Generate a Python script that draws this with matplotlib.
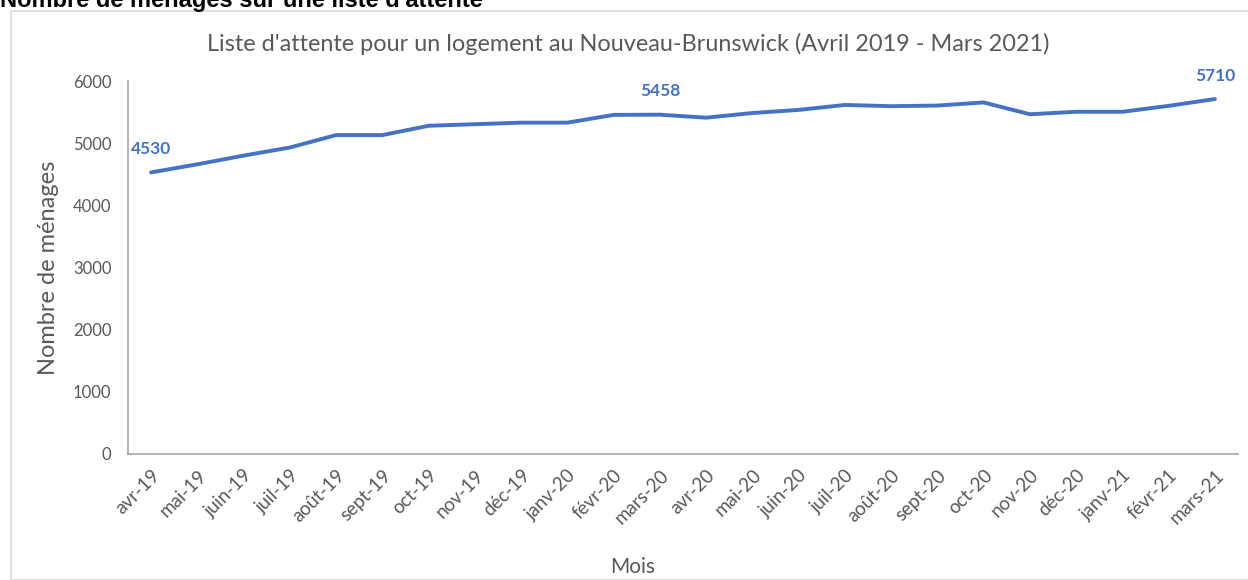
import matplotlib.pyplot as plt
from matplotlib.patches import Rectangle

# donnees : liste d'attente NB, avril 2019 - mars 2021
mois = ['avr-19', 'mai-19', 'juin-19', 'juil-19', 'août-19', 'sept-19',
        'oct-19', 'nov-19', 'déc-19', 'janv-20', 'févr-20', 'mars-20',
        'avr-20', 'mai-20', 'juin-20', 'juil-20', 'août-20', 'sept-20',
        'oct-20', 'nov-20', 'déc-20', 'janv-21', 'févr-21', 'mars-21']
menages = [4530, 4660, 4800, 4930, 5130, 5130,
           5280, 5305, 5330, 5330, 5455, 5458,
           5410, 5485, 5535, 5615, 5595, 5605,
           5655, 5465, 5505, 5505, 5600, 5710]
etiquettes = [0, 11, 23]  # points annotes

bleu = '#4472C4'
gris = '#595959'

plt.rcParams['font.family'] = ['Lato', 'DejaVu Sans']

fig = plt.figure(figsize=(12.48, 5.8), dpi=100)

# cadre du graphique
fig.patches.append(Rectangle((11/1248, 0), 1.0, 1 - 11/580, transform=fig.transFigure,
                             fill=False, edgecolor='#d9d9d9', linewidth=1.2))

# titre de la page (coupe en haut comme sur l'original)
fig.text(0.0, 1 - 7/580, "Nombre de ménages sur une liste d'attente",
         family='Liberation Sans', fontweight='bold', fontsize=17, va='baseline', ha='left')

ax = fig.add_axes([128/1248, 1 - 454/580, (1238 - 128)/1248, (454 - 81)/580])
x = list(range(len(mois)))
ax.plot(x, menages, color=bleu, linewidth=2.8, solid_capstyle='round')

for i in etiquettes:
    ax.annotate(str(menages[i]), (x[i], menages[i]), xytext=(0, 11), textcoords='offset points',
                ha='center', va='bottom', color=bleu, fontweight='bold', fontsize=12.5)

ax.set_xlim(-0.5, len(mois) - 0.5)
ax.set_ylim(0, 6000)
ax.set_yticks(range(0, 6001, 1000))
ax.set_xticks(x)
ax.set_xticklabels(mois, rotation=45, ha='right', rotation_mode='anchor')
ax.tick_params(length=0, colors=gris, labelsize=12)
ax.tick_params(axis='x', pad=9, labelsize=13.5)
ax.tick_params(axis='y', pad=12)

for s in ['top', 'right']:
    ax.spines[s].set_visible(False)
for s in ['left', 'bottom']:
    ax.spines[s].set_color('#a6a6a6')
    ax.spines[s].set_linewidth(1.2)

ax.set_ylabel('Nombre de ménages', fontsize=17, color=gris, labelpad=10)
fig.text(633/1248, 1 - 567/580, 'Mois', fontsize=15, color=gris, ha='center', va='center')
fig.text(628/1248, 1 - 44/580,
         "Liste d'attente pour un logement au Nouveau-Brunswick (Avril 2019 - Mars 2021)",
         fontsize=16.9, color=gris, ha='center', va='center')

fig.savefig('out.png', dpi=100)
